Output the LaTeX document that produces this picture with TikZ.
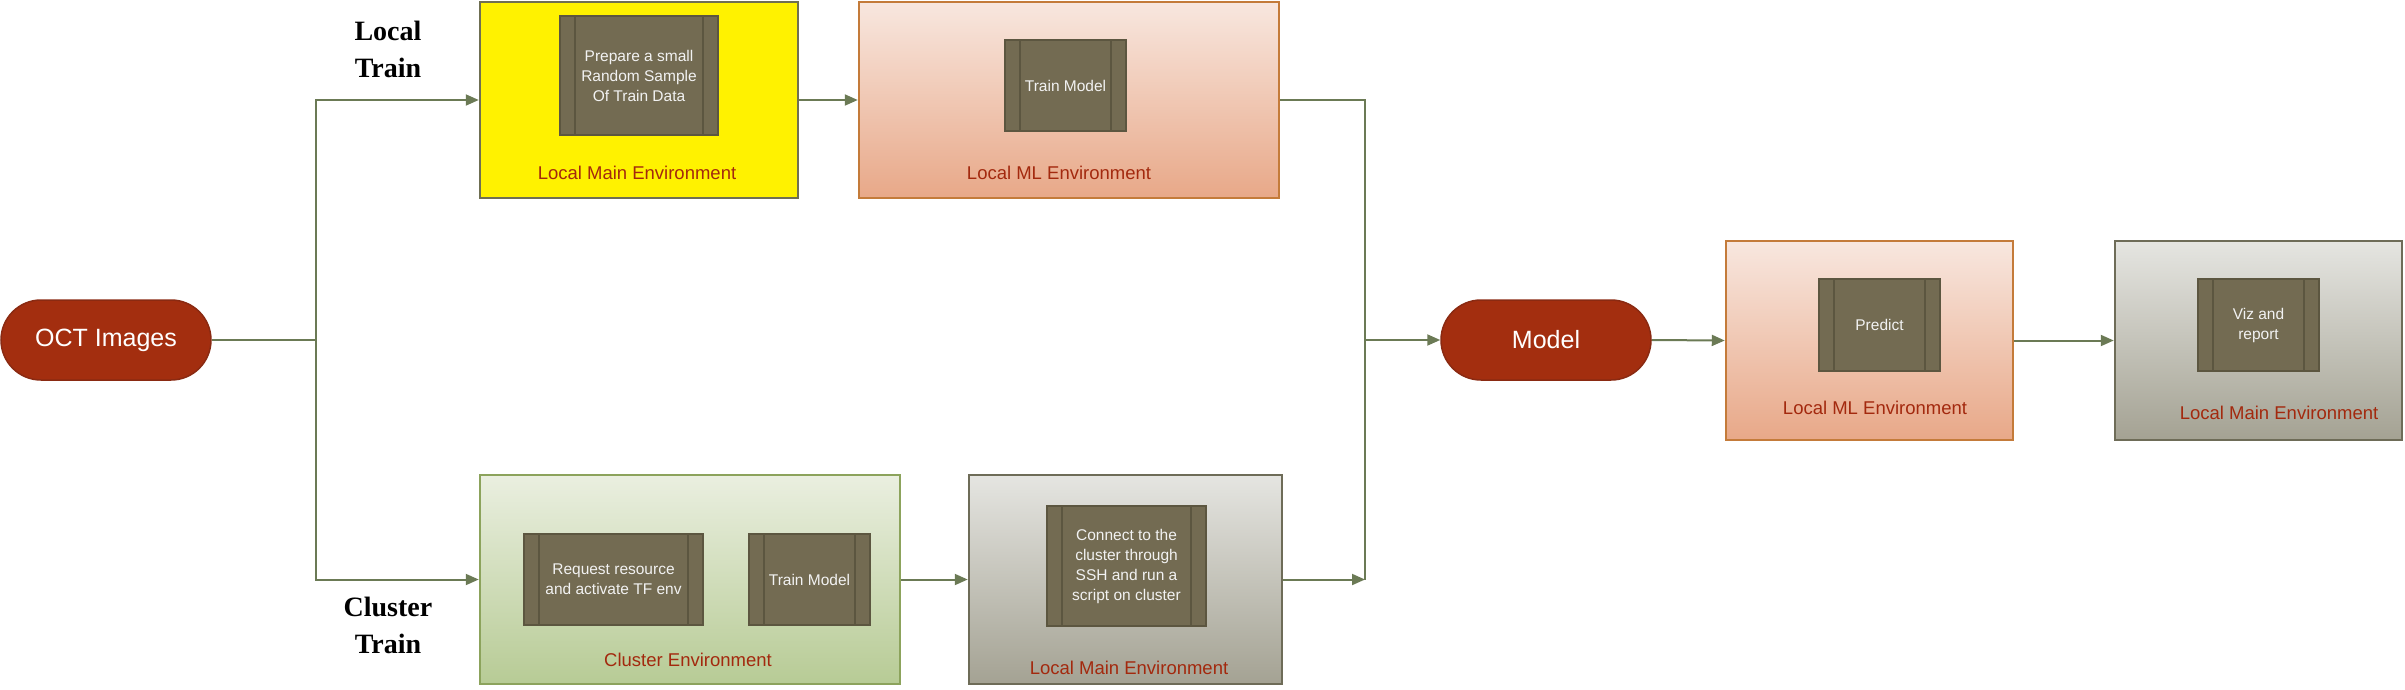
\documentclass[tikz,border=0pt]{standalone}
\usepackage{fontspec}
\setmainfont{Liberation Sans}
\newfontfamily\serifb{Liberation Serif}
\usetikzlibrary{arrows.meta,shapes.misc}
\definecolor{procfill}{HTML}{736B52}
\definecolor{procline}{HTML}{5C5640}
\definecolor{pillfill}{HTML}{A32E0F}
\definecolor{pillline}{HTML}{8A2A12}
\definecolor{labred}{HTML}{A3290E}
\definecolor{conn}{HTML}{6B7A55}
\definecolor{ylwline}{HTML}{6F6F52}
\definecolor{orgtop}{HTML}{F8E7DF}
\definecolor{orgbot}{HTML}{E8A888}
\definecolor{orgline}{HTML}{C47B3A}
\definecolor{grntop}{HTML}{EAEFE0}
\definecolor{grnbot}{HTML}{B7CB95}
\definecolor{grnline}{HTML}{8CA35C}
\definecolor{grytop}{HTML}{E5E5E1}
\definecolor{grybot}{HTML}{A4A293}
\definecolor{gryline}{HTML}{6E6C58}
\tikzset{
  envbox/.style={rectangle, line width=2.5pt, inner sep=0pt},
  yellowenv/.style={envbox, draw=ylwline, fill=yellow},
  orangeenv/.style={envbox, draw=orgline, top color=orgtop, bottom color=orgbot},
  greenenv/.style={envbox, draw=grnline, top color=grntop, bottom color=grnbot},
  grayenv/.style={envbox, draw=gryline, top color=grytop, bottom color=grybot},
  proc/.style={rectangle, draw=procline, fill=procfill, line width=2pt, text=white!95!black,
    font=\fontsize{15.5}{20}\selectfont, align=center, inner sep=0pt,
    path picture={
      \draw[procline, line width=1.5pt]
        ([xshift=15pt]path picture bounding box.north west) -- ([xshift=15pt]path picture bounding box.south west)
        ([xshift=-15pt]path picture bounding box.north east) -- ([xshift=-15pt]path picture bounding box.south east);
    }},
  pill/.style={rounded rectangle, draw=pillline, fill=pillfill, line width=1.5pt, text=white,
    font=\fontsize{25}{30}\selectfont, minimum width=210pt, minimum height=80pt, inner sep=0pt},
  envlabel/.style={text=labred, font=\fontsize{18.5}{22}\selectfont, inner sep=0pt},
  trainlabel/.style={font=\serifb\bfseries\fontsize{28}{37}\selectfont, align=center, inner sep=0pt},
  cline/.style={draw=conn, line width=2pt},
  arr/.style={cline, -{Triangle[length=13pt,width=11pt]}}
}
\begin{document}
\begin{tikzpicture}[x=1pt,y=-1pt]
\useasboundingbox (0,0) rectangle (2405,689);

% start
\node[pill] (oct) at (106,340) {OCT Images};

% local train branch
\node[trainlabel] (lt) at (388,49) {Local\\Train};
\node[yellowenv, minimum width=318pt, minimum height=196pt] (lme1) at (639,100) {};
\node[proc, minimum width=158pt, minimum height=119pt] (p1) at (639,75.5) {Prepare a small\\Random Sample\\Of Train Data};
\node[envlabel] (lme1l) at (637,173) {Local Main Environment};

\node[orangeenv, minimum width=420pt, minimum height=196pt] (lml1) at (1069,100) {};
\node[proc, minimum width=121pt, minimum height=91pt] (t1) at (1065.5,85.5) {Train Model};
\node[envlabel] (lml1l) at (1059,173) {Local ML Environment};

% cluster train branch
\node[trainlabel] (ct) at (388,625) {Cluster\\Train};
\node[greenenv, minimum width=420pt, minimum height=209pt] (ce) at (690,579.5) {};
\node[proc, minimum width=179pt, minimum height=91pt] (r1) at (613.5,579.5) {Request resource\\and activate TF env};
\node[proc, minimum width=121pt, minimum height=91pt] (t2) at (809.5,579.5) {Train Model};
\node[envlabel] (cel) at (688,660) {Cluster Environment};

\node[grayenv, minimum width=313pt, minimum height=209pt] (lme2) at (1125.5,579.5) {};
\node[proc, minimum width=159pt, minimum height=120pt] (c1) at (1126.5,566) {Connect to the\\cluster through\\SSH and run a\\script on cluster};
\node[envlabel] (lme2l) at (1129,668) {Local Main Environment};

% model and prediction
\node[pill] (model) at (1546,340) {Model};

\node[orangeenv, minimum width=287pt, minimum height=199pt] (lml2) at (1869.5,340.5) {};
\node[proc, minimum width=121pt, minimum height=92pt] (pr) at (1879.5,325) {Predict};
\node[envlabel] (lml2l) at (1875,408) {Local ML Environment};

\node[grayenv, minimum width=287pt, minimum height=199pt] (lme3) at (2258.5,340.5) {};
\node[proc, minimum width=121pt, minimum height=92pt] (vz) at (2258.5,325) {Viz and\\report};
\node[envlabel] (lme3l) at (2279,413) {Local Main Environment};

% connectors
\coordinate (j1) at (316,340);
\coordinate (j2) at (1365,340);
\draw[cline] (oct.east) -- (j1);
\draw[arr] (j1) |- (lme1.west);
\draw[arr] (j1) |- (ce.west);
\draw[arr] (lme1.east) -- (lml1.west);
\draw[arr] (ce.east) -- (lme2.west);
\draw[cline] (lml1.east) -| (j2 |- lme2.east);
\draw[arr] (lme2.east) -- (j2 |- lme2.east);
\draw[arr] (j2) -- (model.west);
\draw[arr] (model.east) -- (lml2.west);
\draw[arr] (lml2.east) -- (lme3.west);
\end{tikzpicture}
\end{document}
